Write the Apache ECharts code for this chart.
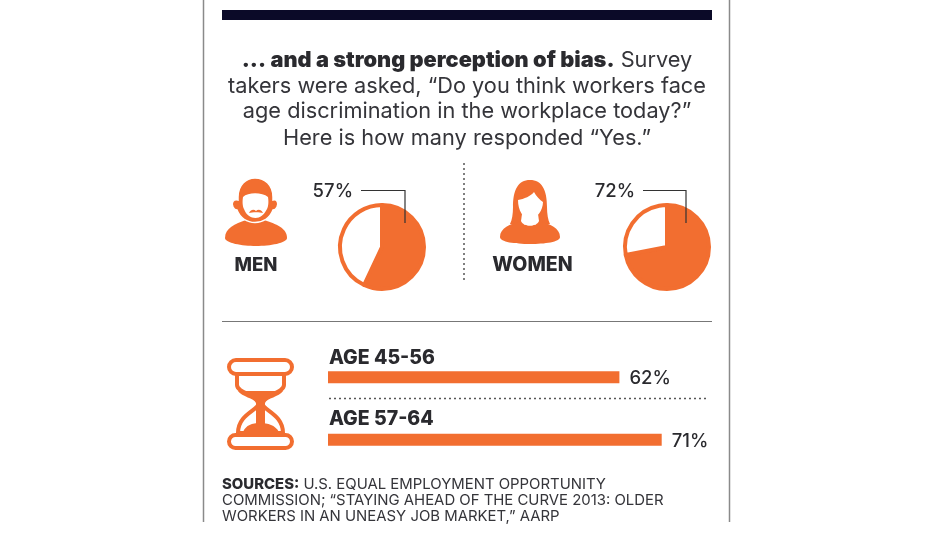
<!DOCTYPE html>
<html>
<head>
<meta charset="utf-8">
<style>
  html, body { margin: 0; padding: 0; background: #fff; }
  #chart { width: 932px; height: 535px; }
</style>
<script src="https://cdn.jsdelivr.net/npm/echarts@6/dist/echarts.min.js"></script>
</head>
<body>
<div id="chart"></div>
<script>
const genderNames = ["MEN", "WOMEN"];
const genderYes = [57, 72];
const ageNames = ["AGE 45-56", "AGE 57-64"];
const ageYes = [62, 71];
const introLines = [
  ["... and a strong perception of bias.", " Survey"],
  ["", "takers were asked, “Do you think workers face"],
  ["", "age discrimination in the workplace today?”"],
  ["", "Here is how many responded “Yes.”"],
];
const sourceLines = [
  ["SOURCES:", " U.S. EQUAL EMPLOYMENT OPPORTUNITY"],
  ["", "COMMISSION; “STAYING AHEAD OF THE CURVE 2013: OLDER"],
  ["", "WORKERS IN AN UNEASY JOB MARKET,” AARP"],
];

const ORANGE = "#f26e30";
const INK = "#2a2a2e";
const FONT = "Inter";

function line(x1, y1, x2, y2, stroke, lineWidth, lineDash) {
  return {
    type: "line",
    shape: { x1, y1, x2, y2 },
    style: { stroke, lineWidth, lineDash },
  };
}

function text(x, y, value, fontSize, fontWeight, align = "left") {
  return {
    type: "text",
    x,
    y,
    style: {
      text: value,
      fontSize,
      fontWeight,
      fontFamily: FONT,
      fill: INK,
      align,
      verticalAlign: "middle",
    },
  };
}

function richLine(x, y, parts, fontSize, align, boldWeight) {
  return {
    type: "text",
    x,
    y,
    style: {
      text: (parts[0] ? `{b|${parts[0]}}` : "") + `{n|${parts[1]}}`,
      align,
      verticalAlign: "middle",
      rich: {
        b: { fontSize, fontWeight: boldWeight, fontFamily: FONT, fill: INK },
        n: { fontSize, fontWeight: 400, fontFamily: FONT, fill: "#35353a" },
      },
    },
  };
}

function leader(x1, x2, y1, y2) {
  return {
    type: "polyline",
    shape: { points: [[x1, y1], [x2, y1], [x2, y2]] },
    style: { stroke: "#333", lineWidth: 1.2, fill: null },
    z: 10,
  };
}

// the graphic component has no plain path type, so each svg path gets its own shape
let shapeCount = 0;
function pathType(pathData) {
  const name = "iconShape" + shapeCount++;
  echarts.graphic.registerShape(name, echarts.graphic.extendPath(pathData, {}));
  return name;
}

function icon(pathData, fill = ORANGE) {
  return { type: pathType(pathData), style: { fill } };
}

function outline(pathData) {
  return {
    type: pathType(pathData),
    style: { fill: "#fff", stroke: ORANGE, lineWidth: 4 },
  };
}

const manIcon = [
  // shoulders
  icon("M225 238 C225 228 235 224 246 220 L264 220 C276 224 287 228 287 238 C287 243 270 246 256 246 C242 246 225 243 225 238 Z"),
  // head with beard and ears, white edge keeps it off the shoulders
  {
    type: pathType("M238 197 C238 185 246 178 255 178 C265 178 273 185 273 197 L273 200 C277 199 279 203 277 207 C276 209 275 210 273 210 C270 218 263 222.5 255 222.5 C247 222.5 240 218 237 210 C235 210 234 209 233 207 C231 203 233 199 238 200 Z"),
    style: { fill: ORANGE, stroke: "#fff", lineWidth: 1.5 },
  },
  icon("M243 197 C248 192 262 192 268 197 C269 203 268 207 267 209 C264 215 260 218 255.5 218 C251 218 246 215 244 209 C243 207 242 203 243 197 Z", "#fff"),
  icon("M249 213 C251 209 254 209 256 211 C258 209 261 209 263 213 C260 212 252 212 249 213 Z"),
];

const womanIcon = [
  icon("M513 207 C513 190 518 180 530 180 C542 180 547 190 547 207 C547 214 548 220 550 224 L510 224 C512 220 513 214 513 207 Z"),
  icon("M500 237 C500 228 510 224 521 221 C523 227 537 227 539 221 C550 224 560 228 560 237 C560 242 545 244 530 244 C515 244 500 242 500 237 Z"),
  icon("M522 214 L538 214 L539 221 C537 227 523 227 521 221 Z", "#fff"),
  icon("M518 200 C524 199 531 196 534 192 C536 196 540 200 543 202 C543 210 537 219 530 219 C523 219 518 210 518 200 Z", "#fff"),
];

const hourglass = [
  outline("M237 374 L237 385 C237 393 259 396 259 403 C259 410 238 414 238 433 L283 433 C283 414 262 410 262 403 C262 396 284 393 284 385 L284 374 Z"),
  icon("M238 391 L283 391 C279 397 267 398 265 403 L265 427 L256 427 L256 403 C254 398 242 397 238 391 Z"),
  icon("M243 432 C246 425 252 423 260 423 C268 423 275 425 279 432 Z"),
  {
    type: "rect",
    shape: { x: 229, y: 360, width: 63, height: 14, r: 7 },
    style: { fill: "#fff", stroke: ORANGE, lineWidth: 4 },
  },
  {
    type: "rect",
    shape: { x: 229, y: 435, width: 63, height: 13, r: 6.5 },
    style: { fill: "#fff", stroke: ORANGE, lineWidth: 4 },
  },
];

function pieSeries(value, center) {
  return {
    type: "pie",
    center,
    radius: [0, 42],
    startAngle: 90,
    clockwise: true,
    silent: true,
    label: { show: false },
    labelLine: { show: false },
    itemStyle: { borderColor: ORANGE, borderWidth: 4 },
    data: [
      { value, itemStyle: { color: ORANGE } },
      { value: 100 - value, itemStyle: { color: "#fff" } },
    ],
  };
}

const chart = echarts.init(document.getElementById("chart"), null, { renderer: "canvas" });

chart.setOption({
  animation: false,
  backgroundColor: "#fff",
  grid: { left: 328, top: 346, width: 470, height: 125 },
  xAxis: { type: "value", min: 0, max: 100, show: false },
  yAxis: { type: "category", inverse: true, data: ageNames, show: false },
  series: [
    pieSeries(genderYes[0], [382, 247]),
    pieSeries(genderYes[1], [667, 247]),
    {
      type: "bar",
      data: ageYes,
      barWidth: 12,
      silent: true,
      itemStyle: { color: ORANGE },
      label: {
        show: true,
        position: "right",
        distance: 10,
        offset: [0, 1.5],
        formatter: "{c}%",
        fontFamily: FONT,
        fontSize: 18.5,
        fontWeight: 500,
        color: INK,
      },
    },
  ],
  graphic: [
    // frame and separators
    line(203.5, 0, 203.5, 522, "#8a8a8a", 1.5),
    line(729.5, 0, 729.5, 522, "#8a8a8a", 1.5),
    { type: "rect", shape: { x: 222, y: 10, width: 490, height: 10 }, style: { fill: "#0b0a28" } },
    line(464, 163, 464, 283, "#555", 1.5, [2, 3]),
    line(222, 321.5, 712, 321.5, "#777", 1),
    line(329, 398.5, 706, 398.5, "#555", 1.5, [2, 3]),
    // intro
    ...introLines.map((parts, i) => richLine(467, [60.5, 86, 111, 138][i], parts, 21.75, "center", 900)),
    // gender panels
    ...manIcon,
    ...womanIcon,
    text(256, 265, genderNames[0], 18.5, 800, "center"),
    text(532.5, 265, genderNames[1], 19.5, 800, "center"),
    text(353, 191, genderYes[0] + "%", 18.5, 500, "right"),
    text(635, 191, genderYes[1] + "%", 18.5, 500, "right"),
    leader(361, 405, 190.5, 223),
    leader(643, 686, 190.5, 223),
    // age panel
    ...hourglass,
    text(329, 358, ageNames[0], 19.5, 800),
    text(329, 419, ageNames[1], 19.5, 800),
    // sources
    ...sourceLines.map((parts, i) => richLine(222, [485, 501, 517][i], parts, 14.9, "left", 800)),
  ],
});
</script>
</body>
</html>
